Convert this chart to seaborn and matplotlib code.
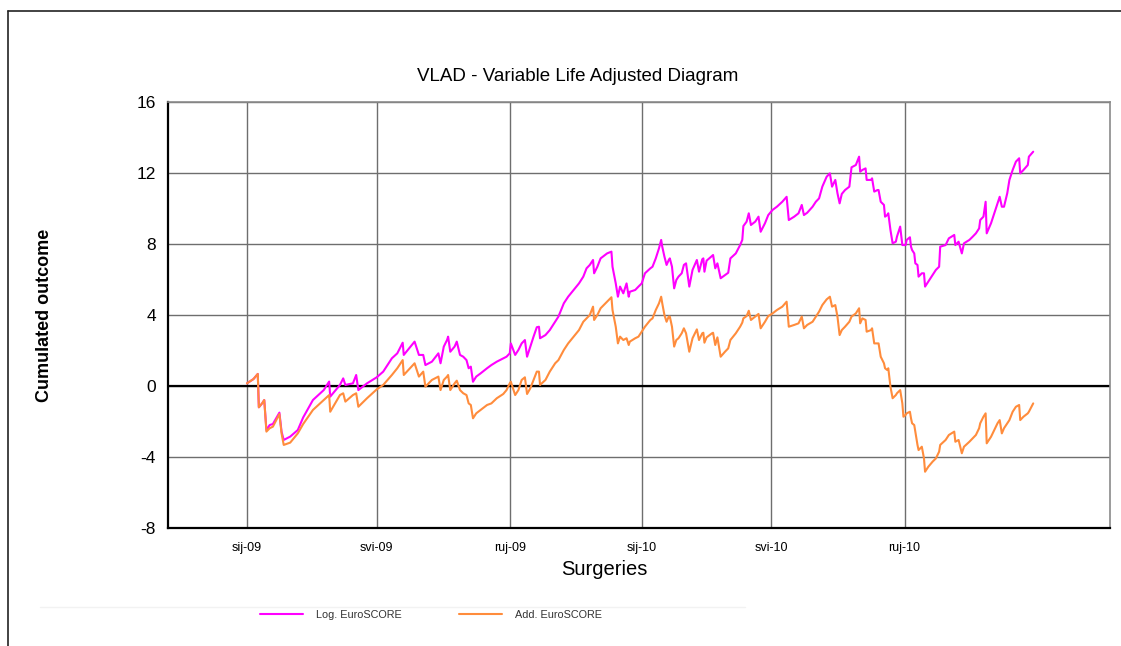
import matplotlib
matplotlib.use("Agg")
import matplotlib.pyplot as plt
import matplotlib.dates as mdates
from matplotlib.lines import Line2D
import pandas as pd
import seaborn as sns

# ---------------- data ----------------
start_date = "2009-01-01"
days = [0, 6, 10, 11, 14, 16, 18, 21, 24, 30, 32, 34, 40, 47, 52, 61, 71, 76, 77, 86,
        89, 91, 98, 101, 103, 111, 120, 126, 134, 139, 144, 145, 155, 159, 163, 165, 171, 177, 179,
        182, 185, 186, 188, 192, 194, 197, 200, 203, 205, 207, 209, 212, 216, 222, 226, 231, 237,
        240, 243, 244, 248, 251, 254, 257, 259, 262, 265, 268, 270, 271, 276, 280, 285, 288, 293,
        297, 302, 307, 311, 314, 317, 320, 321, 324, 327, 333, 337, 338, 341, 343, 345, 348, 351,
        353, 354, 359, 362, 365, 368, 373,
        375, 378, 381, 383, 384, 386, 388, 390, 391, 393, 395, 397, 399, 402, 404, 406, 409, 412,
        416, 418, 421, 422, 423, 425, 430, 431, 433, 435, 438, 442, 445, 447, 452, 456, 458, 459,
        462, 464, 466, 470, 473, 475, 479, 482, 486, 490, 495, 499, 501, 506, 510, 513, 515, 518,
        523, 526, 529, 532, 536, 539, 541, 544, 546, 548, 550, 553, 557, 559, 563, 566, 567,
        569, 572, 573, 577, 578, 580, 583, 584, 586, 589, 590, 592, 593, 595, 597, 600, 601, 604,
        606, 607, 609, 610, 613, 614, 615, 617, 618, 620, 621, 624, 626, 627, 630, 634, 637, 640,
        641, 646, 649, 654, 655, 658, 661, 663, 668, 671, 674, 677, 678, 681, 683, 684, 688, 691,
        694, 696, 698, 700, 703, 705, 708, 711, 714, 715, 718, 722, 723, 727]

log_euroscore = [0.15, 0.39, 0.68, -1.20, -0.98, -0.79, -2.48, -2.20, -2.14, -1.50, -2.57, -3.04,
                 -2.85, -2.48, -1.77, -0.79, -0.23, 0.25, -0.60, 0.06, 0.43, 0.06, 0.15, 0.62, -0.23,
                 0.15, 0.49, 0.81, 1.56, 1.84, 2.44, 1.75, 2.50, 1.75, 1.75, 1.18, 1.37, 1.84, 1.28,
                 2.22, 2.59, 2.78, 1.93, 2.22, 2.50, 1.75, 1.65, 1.46, 1.00, 1.09, 0.24, 0.53, 0.71,
                 1.00, 1.18, 1.37, 1.56, 1.65, 1.84, 2.40, 1.75, 2.03, 2.40, 2.59, 1.65, 2.22, 2.78,
                 3.31, 3.34, 2.69, 2.87, 3.15, 3.62, 3.91, 4.66, 5.03, 5.41, 5.78, 6.16, 6.63, 6.82,
                 7.10, 6.35, 6.72, 7.19, 7.47, 7.57, 6.72, 5.78, 5.03, 5.60, 5.22, 5.78, 5.03, 5.31,
                 5.41, 5.60, 5.78, 6.35, 6.63,
                 6.72, 7.19, 7.76, 8.23, 7.85, 7.29, 6.82, 7.10, 7.19, 6.72, 5.50, 5.97, 6.16, 6.35,
                 6.82, 6.91, 5.60, 6.54, 7.10, 6.44, 7.14, 7.19, 6.44, 7.06, 7.32, 7.38, 6.63, 6.91,
                 6.07, 6.25, 6.38, 7.19, 7.47, 7.94, 8.23, 9.01, 9.26, 9.73, 9.07, 9.26, 9.54, 8.69,
                 9.17, 9.63, 9.92, 10.10, 10.38, 10.66, 9.35, 9.54, 9.73, 10.20, 9.63, 9.76, 10.10,
                 10.38, 10.57, 11.23, 11.79, 11.98, 11.23, 11.61, 10.86, 10.29, 10.82, 11.04, 11.23,
                 12.32, 12.45, 12.92, 12.07,
                 12.17, 12.26, 11.61, 11.61, 11.70, 10.95, 11.04, 11.04, 10.38, 10.20, 9.54, 9.63,
                 9.73, 8.79, 8.04, 8.13, 8.41, 8.98, 7.94, 7.94, 7.94, 8.23, 8.38, 7.85, 7.66, 7.47,
                 6.91, 6.82, 6.16, 6.35, 6.35, 5.60, 5.88, 6.25, 6.54, 6.72, 7.85, 7.94, 8.32, 8.51,
                 7.94, 8.13, 7.47, 8.04, 8.23, 8.41, 8.60, 8.88, 9.35, 9.54, 10.38, 8.60, 9.17, 9.73,
                 10.29, 10.66, 10.10, 10.10, 10.86, 11.61, 12.17, 12.64, 12.83, 11.98, 12.17, 12.45,
                 12.92, 13.20]

add_euroscore = [0.15, 0.39, 0.68, -1.20, -0.98, -0.79, -2.57, -2.38, -2.29, -1.58, -2.67, -3.32,
                 -3.19, -2.67, -2.14, -1.35, -0.79, -0.51, -1.45, -0.51, -0.41, -0.88, -0.51, -0.41,
                 -1.17, -0.69, -0.19, 0.06, 0.62, 1.00, 1.46, 0.62, 1.28, 0.53, 0.81, -0.04, 0.34,
                 0.53, -0.23,
                 0.34, 0.53, 0.62, -0.23, 0.15, 0.30, -0.23, -0.41, -0.51, -0.98, -1.07, -1.82, -1.54,
                 -1.35, -1.07, -0.98, -0.69, -0.45, -0.23, 0.15, 0.24, -0.51, -0.23, 0.34, 0.49, -0.45,
                 -0.13, 0.34, 0.81, 0.81, 0.06, 0.34, 0.81, 1.28, 1.46, 2.03, 2.40, 2.78, 3.15, 3.62,
                 3.81, 4.00, 4.47, 3.72, 4.00, 4.38, 4.75, 5.00, 4.28, 3.34, 2.40, 2.78, 2.59, 2.69,
                 2.31, 2.50, 2.69, 2.78, 3.06, 3.34, 3.72,
                 3.81, 4.28, 4.66, 5.03, 4.66, 4.00, 3.62, 3.91, 3.91, 3.34, 2.22, 2.59, 2.69, 2.97,
                 3.25, 2.97, 1.93, 2.69, 3.19, 2.59, 2.97, 3.00, 2.44, 2.74, 2.97, 3.00, 2.31, 2.74,
                 1.65, 1.93, 2.12, 2.59, 2.97, 3.34, 3.57, 3.81, 3.94, 4.24, 3.72, 3.91, 4.06, 3.25,
                 3.62, 3.94, 4.09, 4.28, 4.47, 4.75, 3.34, 3.44, 3.53, 3.91, 3.25, 3.44, 3.62, 3.91,
                 4.19, 4.56, 4.88, 5.03, 4.47, 4.56, 3.91, 2.87, 3.15, 3.34, 3.62, 3.91, 4.09, 4.38,
                 3.53,
                 3.81, 3.72, 3.06, 3.15, 3.25, 2.40, 2.40, 2.40, 1.65, 1.28, 1.00, 0.90, 1.00, -0.04,
                 -0.69, -0.51, -0.41, -0.23, -0.98, -1.73, -1.63, -1.54, -1.45, -1.82, -2.10, -2.20,
                 -2.57, -3.32, -3.61, -3.42, -4.08, -4.83, -4.55, -4.26, -4.08, -3.70, -3.32, -3.04,
                 -2.76, -2.57, -3.14, -3.04, -3.79, -3.42, -3.14, -2.95, -2.76, -2.38, -2.10, -1.73,
                 -1.54, -3.23, -2.86, -2.48, -2.10, -1.92, -2.67, -2.38, -2.10, -1.92, -1.45, -1.17,
                 -1.07, -1.92, -1.73, -1.54, -1.45, -0.98]

series_names = ["Log. EuroSCORE", "Add. EuroSCORE"]
tick_dates = ["2009-01-01", "2009-05-01", "2009-09-01", "2010-01-01", "2010-05-01", "2010-09-01"]
tick_labels = ["sij-09", "svi-09", "ruj-09", "sij-10", "svi-10", "ruj-10"]
y_ticks = [-8, -4, 0, 4, 8, 12, 16]
x_range = ["2008-10-20", "2011-03-10"]

title = "VLAD - Variable Life Adjusted Diagram"
x_label = "Surgeries"
y_label = "Cumulated outcome"

# ---------------- style ----------------
sns.set_theme(style="white")
plt.rcParams["font.family"] = ["Liberation Sans", "DejaVu Sans"]

colors = {series_names[0]: "#FF00FF", series_names[1]: "#FF8C3C"}

dates = pd.Timestamp(start_date) + pd.to_timedelta(days, unit="D")
df = pd.DataFrame({
    "date": list(dates) * 2,
    "value": log_euroscore + add_euroscore,
    "series": [series_names[0]] * len(days) + [series_names[1]] * len(days),
})

W, H = 1121, 646
fig = plt.figure(figsize=(W / 100, H / 100), dpi=100)
ax = fig.add_axes([168 / W, 1 - 528 / H, 942 / W, 426 / H])

ax.set_axisbelow(True)
ax.grid(True, color="#6e6e6e", linewidth=1.0)
ax.axhline(0, color="black", linewidth=1.6, zorder=1.5)

sns.lineplot(data=df, x="date", y="value", hue="series", palette=colors,
             estimator=None, sort=False, linewidth=1.5, ax=ax, legend=False, zorder=3)

ax.set_xlim(pd.Timestamp(x_range[0]), pd.Timestamp(x_range[1]))
ax.set_ylim(y_ticks[0], y_ticks[-1])
ax.set_yticks(y_ticks)
ax.set_yticklabels([str(t) for t in y_ticks])
ax.set_xticks(mdates.date2num(pd.to_datetime(tick_dates)))
ax.set_xticklabels(tick_labels)

ax.tick_params(axis="y", length=0, pad=8.6, labelsize=12.5, labelcolor="black")
ax.tick_params(axis="x", length=0, pad=10, labelsize=9, labelcolor="black")

for side in ["left", "bottom"]:
    ax.spines[side].set_color("black")
    ax.spines[side].set_linewidth(1.6)
for side in ["top", "right"]:
    ax.spines[side].set_color("#8a8a8a")
    ax.spines[side].set_linewidth(1.2)

ax.set_title(title, fontsize=13.5, x=(578 - 168) / 942, pad=15, color="black")
ax.set_xlabel(x_label, fontsize=14.5, color="black")
ax.xaxis.set_label_coords((604 - 168) / 942, -(560 - 528) / 426)
ax.set_ylabel(y_label, fontsize=13, fontweight="bold", color="black")
ax.yaxis.set_label_coords((53 - 168) / 942, 0.5)

handles = [Line2D([0], [0], color=colors[n], linewidth=1.5) for n in series_names]
fig.legend(handles, series_names, loc="center", bbox_to_anchor=(431 / W, 1 - 615 / H),
           ncol=2, frameon=False, fontsize=7.8, handlelength=4.0, handletextpad=1.2,
           columnspacing=5.2, labelcolor="#333333")

# page frame (top and left edges) and faint separator
fig.add_artist(Line2D([8 / W, 8 / W], [0, 1 - 11 / H], transform=fig.transFigure,
                      color="#222222", linewidth=1.2))
fig.add_artist(Line2D([8 / W, 1], [1 - 11 / H, 1 - 11 / H], transform=fig.transFigure,
                      color="#222222", linewidth=1.2))
fig.add_artist(Line2D([40 / W, 745 / W], [1 - 607 / H, 1 - 607 / H], transform=fig.transFigure,
                      color="#f2f2f2", linewidth=1.0))

fig.savefig("out.png", dpi=100)
